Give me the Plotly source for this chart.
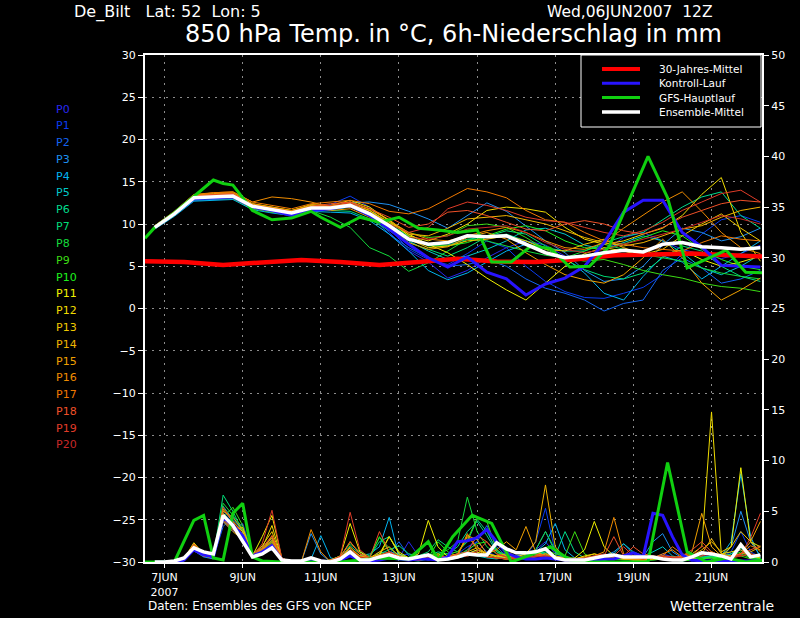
import plotly.graph_objects as go
import pandas as pd

# ---------------- DATA ----------------
T0 = pd.Timestamp("2007-06-06 12:00")
member_hours = list(range(6, 379, 12))        # temperature of the ensemble members (12h)
precip_hours = list(range(6, 379, 6))         # 6h precipitation
clim_hours = list(range(0, 385, 24))

members_names = ["P%d" % i for i in range(21)]
member_colors = ["#2828f0", "#0a3cf0", "#1464f0", "#1e90f0", "#00b4f0", "#00c8c8",
                 "#00dc8c", "#00dc78", "#14dc3c", "#3cdc14", "#1ef01e",
                 "#f0f000", "#f0dc00", "#f0c800", "#f0b400", "#f0a000", "#f08c00",
                 "#f07800", "#f05028", "#e03c28", "#c82828"]

T_P0 = [9.5,11.0,12.9,13.0,13.1,11.8,11.5,11.0,11.6,12.0,12.6,11.4,9.0,6.8,5.5,3.6,4.5,6.0,7.2,8.0,7.5,6.2,5.8,6.8,8.4,9.0,8.0,7.0,6.4,5.9,6.5,7.5]
T_P1 = [9.6,11.1,13.0,13.1,13.2,12.0,11.6,11.0,11.7,12.3,13.3,12.0,9.5,7.0,5.8,5.2,6.5,8.0,7.2,5.0,3.2,2.0,1.3,1.2,1.8,2.5,4.0,6.5,8.8,10.5,11.0,10.2]
T_P2 = [9.7,11.3,13.2,13.3,13.4,12.2,11.8,11.2,11.8,12.0,12.5,11.0,8.8,7.2,6.0,5.0,5.2,5.8,5.0,3.5,2.4,1.8,1.0,-0.3,0.6,1.0,4.5,6.0,4.8,3.0,3.5,4.5]
T_P3 = [9.5,11.0,12.8,12.9,13.0,11.9,11.4,11.1,11.8,12.0,12.5,12.6,12.3,11.5,10.6,9.5,11.0,12.5,11.5,9.8,8.0,6.6,4.5,3.2,3.5,5.0,7.5,9.5,9.0,8.0,8.5,9.5]
T_P4 = [9.4,10.9,12.7,12.8,12.9,11.7,11.3,11.0,11.5,11.4,11.3,10.4,8.8,6.8,4.5,3.4,4.2,5.5,6.8,7.6,7.2,6.0,4.2,1.8,1.0,3.8,6.2,5.5,3.5,5.0,6.5,8.0]
T_P5 = [9.5,11.1,12.9,13.0,13.1,11.9,11.5,11.4,12.0,11.8,12.0,11.0,9.6,8.0,6.8,5.8,6.2,7.0,8.0,9.3,9.5,8.8,7.5,7.0,7.8,8.6,8.0,6.6,4.8,4.0,5.0,6.4]
T_P6 = [9.6,11.2,13.0,13.1,13.3,12.1,11.6,11.2,11.9,11.7,12.0,11.2,10.0,8.5,7.5,7.5,8.2,8.5,8.8,8.0,7.2,6.8,6.8,7.8,8.5,9.0,10.5,12.0,13.2,13.8,11.0,9.5]
T_P7 = [9.5,11.1,12.9,13.1,13.2,12.0,11.5,11.1,11.8,11.6,11.5,10.6,9.2,7.8,7.0,6.2,7.2,8.5,9.2,8.8,7.4,5.8,4.6,3.8,3.5,4.2,6.0,7.4,6.8,5.0,3.8,3.2]
T_P8 = [9.6,11.2,13.0,13.1,13.1,11.9,11.4,11.0,11.6,10.8,9.6,7.2,6.2,4.4,5.4,6.8,8.2,8.0,7.4,6.8,6.3,6.0,6.8,7.6,7.0,6.4,6.0,5.6,4.8,4.2,3.8,3.5]
T_P9 = [9.5,11.0,12.9,13.0,13.0,11.8,11.4,11.2,11.7,11.8,12.1,11.4,10.3,9.0,8.4,8.6,9.8,10.0,9.6,8.4,7.0,6.0,5.6,5.8,5.2,4.5,4.0,3.6,3.0,2.6,2.4,2.0]
T_P10 = [9.6,11.2,13.1,13.2,13.3,12.2,11.8,11.3,12.0,12.1,12.4,11.6,10.2,8.6,7.4,7.4,7.8,8.6,9.4,9.8,9.2,8.0,7.2,7.0,7.6,8.4,9.2,8.6,7.0,5.8,5.0,4.6]
T_P11 = [9.7,11.3,13.2,13.3,13.4,12.3,11.9,11.5,12.1,12.0,12.6,11.8,10.5,8.8,7.6,6.6,5.2,3.6,2.2,1.0,3.0,5.0,6.5,7.2,6.8,6.2,6.4,6.9,5.8,5.0,5.5,6.2]
T_P12 = [9.7,11.4,13.3,13.4,13.5,12.3,11.8,11.4,12.0,12.2,12.8,12.0,10.4,8.6,8.0,8.8,10.0,11.6,12.0,11.8,11.4,9.6,8.2,7.6,8.0,8.8,9.5,11.0,13.5,15.5,9.0,5.6]
T_P13 = [9.8,11.4,13.3,13.5,13.6,12.4,12.0,11.6,12.2,12.1,12.4,11.6,10.0,8.2,7.2,7.4,8.0,8.2,8.6,8.0,7.0,6.8,7.6,8.2,7.2,6.4,7.0,8.6,10.0,11.2,9.5,8.0]
T_P14 = [9.7,11.3,13.4,13.6,13.7,12.4,12.0,11.6,12.3,12.2,12.4,11.6,10.2,8.8,8.6,9.5,10.6,10.8,11.0,10.5,10.0,9.2,8.4,7.8,7.4,7.8,8.6,9.4,9.8,10.8,11.6,12.0]
T_P15 = [9.6,11.2,13.3,13.5,13.6,12.2,11.8,11.2,11.9,11.6,11.8,10.8,9.6,7.8,7.0,7.3,8.4,9.0,8.2,6.6,5.2,4.0,3.4,3.0,4.0,6.0,8.2,6.0,3.0,1.0,2.2,3.6]
T_P16 = [9.8,11.5,13.5,13.7,13.8,12.6,13.2,13.0,12.6,12.0,12.6,11.8,10.4,9.0,8.2,8.0,8.6,9.2,9.6,9.0,8.0,7.2,7.0,7.8,9.5,11.0,12.6,13.8,11.5,9.0,7.2,6.5]
T_P17 = [9.7,11.4,13.4,13.7,13.8,12.6,12.2,11.8,12.4,12.6,12.8,12.4,11.5,11.2,11.8,13.0,14.2,13.8,13.1,11.6,10.5,10.2,9.0,8.0,7.6,7.2,7.0,6.8,7.8,8.6,8.2,8.0]
T_P18 = [9.6,11.3,13.3,13.5,13.6,12.3,11.9,11.5,12.1,12.4,12.6,11.8,10.8,9.6,10.0,11.4,11.6,11.0,10.2,9.4,9.2,10.0,10.4,10.0,9.2,8.8,9.6,10.8,11.6,12.4,12.8,12.6]
T_P19 = [9.6,11.2,13.2,13.4,13.5,12.2,11.8,11.4,12.0,12.2,12.5,11.4,10.0,9.0,9.6,11.8,12.6,12.2,11.6,10.8,10.4,10.2,9.6,9.0,8.6,9.2,10.2,11.6,12.6,13.6,14.0,12.6]
T_P20 = [9.5,11.1,13.1,13.3,13.4,12.0,11.6,11.2,11.8,12.0,12.0,11.0,9.5,8.4,8.2,8.6,9.4,9.6,9.8,9.0,7.8,7.0,6.6,7.0,7.6,8.2,8.8,9.4,10.2,11.0,10.6,10.0]

R_P0 = [0,0,0,0.2,1.3,0.6,0.4,4.0,3.0,3.8,0.8,1.0,1.6,0.2, 0,0,0,0,0,0.2,0.8,0.4,0.2,0.3,0.6,0.4, 2.0,0.6,0.3,0.2,0.4,0.5,1.2,2.5,3.2,1.0,0.8,0.4, 0.6,1.2,2.0,0.8,0.4,0.2,0.1,0.3,0.4,0.6,0.5,0.3, 0.2,0.4,0.8,0.5,0.2,0.1,0.3,0.5,0.2,0.4,1.5,0.6,0.3]
R_P1 = [0,0,0.1,0.3,1.5,0.7,0.5,5.0,4.0,2.0,0.5,0.8,1.5,0.2, 0,0,0,0,0.1,0.3,1.0,0.5,0.3,0.2,0.4,0.6, 0.8,0.4,0.2,0.3,0.5,0.8,1.5,2.0,1.0,0.6,0.4,0.5, 0.6,2.0,5.3,1.0,0.3,0.2,0.1,0.2,0.3,0.5,0.4,0.2, 0.2,0.5,0.6,0.3,0.2,0.4,0.6,0.8,0.5,1.0,3.0,1.0,0.5]
R_P2 = [0,0,0,0.2,1.2,0.6,0.4,3.5,4.5,3.0,0.6,1.0,1.2,0.2, 0,0,0,0,0,0.2,0.6,0.3,0.2,1.0,0.8,2.0, 0.6,0.3,0.2,0.4,0.3,0.6,1.0,2.0,3.6,1.5,0.6,0.4, 0.3,0.6,0.8,0.4,0.2,0.1,0.2,0.3,0.2,0.4,0.6,0.3, 0.2,0.3,0.4,0.2,0.1,0.2,0.3,0.4,0.5,0.8,1.2,0.5,0.3]
R_P3 = [0,0,0,0.1,1.1,0.5,0.3,4.2,3.2,2.8,0.5,0.8,1.8,0.3, 0,0,2.8,0.8,0,0.3,0.6,0.2,0.3,0.6,1.0,0.8, 0.4,0.2,0.3,0.3,0.4,0.6,0.8,1.2,0.9,0.5,0.4,0.6, 0.8,1.2,3.0,1.0,0.4,0.3,0.2,0.4,0.6,1.0,1.8,0.8, 0.5,2.0,2.8,1.0,0.4,0.3,0.4,0.6,0.4,1.5,5.0,2.0,0.6]
R_P4 = [0,0,0.1,0.4,1.6,0.8,0.6,4.8,3.8,2.4,0.7,1.2,2.2,0.3, 0,0,0.3,2.6,0.4,0.2,1.2,0.6,0.8,1.5,4.4,0.5, 0.3,0.2,0.4,0.3,0.2,0.4,0.6,0.8,0.5,0.4,0.3,0.4, 0.5,1.0,1.8,3.8,1.2,0.4,0.2,0.2,0.3,0.4,0.6,0.4, 0.3,0.4,0.6,0.3,0.2,0.2,0.3,0.5,0.6,2.0,8.7,2.5,0.4]
R_P5 = [0,0,0,0.2,1.4,0.6,0.5,5.5,4.2,3.2,0.8,1.4,2.4,0.3, 0,0,0,0,0.2,0.5,1.2,0.5,0.3,0.6,0.8,0.4, 0.2,0.1,0.3,0.5,0.4,0.8,1.0,0.6,0.4,0.3,0.5,0.4, 0.4,0.6,1.0,0.6,0.4,0.3,0.2,0.3,0.5,0.8,1.8,1.0, 0.6,1.0,1.5,0.6,0.3,0.4,0.5,0.6,0.4,0.8,1.5,0.6,0.4]
R_P6 = [0,0,0,0.2,1.5,0.7,0.6,4.6,3.4,2.6,0.5,1.0,1.9,0.2, 0,0,0,0,0.1,0.4,1.6,0.8,0.5,2.0,2.5,0.8, 0.4,0.3,0.6,1.0,0.8,1.5,3.0,4.0,2.6,1.0,0.6,0.4, 0.6,1.0,0.8,0.6,3.0,1.0,0.4,0.3,0.2,0.3,0.4,0.3, 0.2,0.3,0.5,0.4,0.3,0.3,0.4,0.6,0.5,0.8,1.6,0.8,0.5]
R_P7 = [0,0,0.1,0.3,1.3,0.6,0.5,6.6,5.0,3.0,0.6,1.1,2.0,0.3, 0,0,0,0,0,0.2,0.6,0.4,0.3,0.8,1.2,1.6, 0.8,0.6,1.0,2.2,1.5,1.0,2.0,4.2,3.0,1.2,0.5,0.3, 0.4,0.8,1.0,0.5,0.3,0.2,0.1,0.2,0.3,0.4,0.3,0.2, 0.2,0.3,0.4,0.3,0.2,0.2,0.3,0.5,0.4,0.6,1.4,0.6,0.3]
R_P8 = [0,0,0.1,0.3,1.8,0.8,0.5,5.8,4.6,3.4,0.8,1.3,2.1,0.3, 0,0,0,0,0.2,0.6,1.8,1.0,0.6,2.4,1.4,0.6, 0.4,0.3,0.5,0.8,1.2,2.0,6.4,3.0,1.5,0.8,0.5,0.4, 0.6,1.2,3.0,1.2,0.6,0.3,0.2,0.3,0.4,0.3,0.2,0.2, 0.1,0.2,0.3,0.2,0.2,0.3,0.5,0.4,0.3,0.5,0.8,0.4,0.2]
R_P9 = [0,0,0,0.2,1.2,0.6,0.4,4.4,5.4,3.6,0.6,1.0,1.7,0.2, 0,0,0,0,0,0.3,0.8,0.4,0.2,0.5,0.8,0.4, 0.3,0.2,0.4,0.6,0.8,1.0,2.2,4.3,4.0,1.2,0.6,0.4, 0.5,0.8,1.2,0.8,0.6,3.0,0.8,0.3,0.2,0.3,0.4,0.3, 0.2,0.2,0.3,0.2,0.1,0.2,0.3,0.4,0.2,0.4,0.6,0.3,0.2]
R_P10 = [0,0,0,0.2,1.4,0.7,0.5,4.8,3.6,2.8,0.7,1.2,2.0,0.3, 0,0,0,0,0.1,0.3,1.0,0.6,0.4,2.5,1.0,0.5, 0.3,0.2,0.4,2.0,1.0,0.6,1.2,1.8,2.0,1.0,0.4,0.3, 0.4,0.6,0.8,0.4,0.3,0.2,0.1,0.2,0.3,0.4,0.5,0.3, 0.2,0.3,0.4,0.3,0.2,0.2,0.3,0.5,0.4,0.6,1.0,0.5,0.3]
R_P11 = [0,0,0.1,0.3,1.9,0.8,0.6,5.2,4.0,3.0,0.6,2.5,4.6,0.4, 0,0,0,0,0.2,0.6,3.8,1.0,0.4,0.6,2.5,1.0, 0.4,0.8,4.1,1.5,0.5,0.6,0.8,1.0,0.6,0.4,0.3,0.5, 0.8,1.0,0.6,0.4,0.3,0.4,1.2,4.0,1.5,0.6,0.4,0.3, 0.2,0.3,0.4,0.3,0.2,0.3,0.6,1.0,0.6,1.5,9.3,2.0,1.5]
R_P12 = [0,0,0,0.2,1.3,0.6,0.4,4.2,3.2,3.4,0.6,1.4,3.6,0.3, 0,0,0,0,0.1,0.4,1.4,0.6,0.4,0.8,2.5,0.8, 0.3,0.2,0.6,0.8,0.4,0.5,0.8,1.2,0.8,0.5,0.6,0.4, 0.3,0.5,0.8,0.6,0.4,0.3,0.6,0.8,0.5,0.4,0.3,0.2, 0.2,0.3,0.4,0.3,0.5,0.8,1.5,14.8,0.8,1.0,1.2,0.6,0.4]
R_P13 = [0,0,0.1,0.3,1.6,0.7,0.5,4.6,3.8,2.6,0.7,1.6,3.0,0.3, 0,0,0,0,0.2,0.5,2.0,0.8,0.4,1.0,1.5,0.6, 0.3,0.2,0.5,0.6,0.4,0.5,1.0,1.4,0.8,0.6,0.4,0.5, 0.6,0.8,0.6,0.5,0.4,0.3,0.5,0.8,0.6,0.4,0.3,0.4, 0.3,0.4,0.5,0.4,0.3,0.6,1.2,2.0,1.0,1.5,3.0,2.0,1.0]
R_P14 = [0,0,0,0.2,1.2,0.6,0.4,4.0,3.0,2.2,0.5,1.0,2.6,0.2, 0,0,0,0,0.1,0.3,1.0,0.5,0.3,0.6,0.8,0.5, 0.4,0.3,0.5,0.4,0.6,0.8,2.6,2.2,0.8,0.6,0.8,1.0, 0.8,2.0,7.6,1.5,0.4,0.3,0.2,0.4,0.6,0.5,0.4,0.3, 0.3,0.4,0.6,0.5,0.4,0.5,0.8,2.3,0.8,0.6,0.8,1.0,1.5]
R_P15 = [0,0,0.1,0.3,1.7,0.8,0.6,5.0,4.4,3.2,0.7,1.3,2.4,0.3, 0,0,0,0,0.1,0.4,1.2,0.6,0.4,0.7,1.0,0.6, 0.3,0.2,0.4,0.5,0.5,0.7,2.5,1.5,0.8,1.2,2.0,1.2, 3.5,1.0,0.6,0.4,0.3,0.2,0.3,0.5,0.6,0.4,0.3,0.2, 0.2,0.3,0.5,0.4,0.6,1.0,4.8,1.5,0.6,0.5,0.8,2.0,4.0]
R_P16 = [0,0,0.1,0.3,1.4,0.6,0.5,4.4,3.4,2.4,0.6,1.2,2.2,0.3, 0,0,3.2,1.0,0,0.2,0.6,0.4,0.3,0.5,0.7,0.4, 0.3,0.2,0.3,0.5,0.4,0.6,2.8,1.2,0.6,0.4,0.3,0.4, 0.5,0.8,0.6,0.5,0.4,0.3,0.4,0.6,1.0,4.4,0.8,0.4, 0.3,0.4,0.8,1.2,0.5,0.6,0.8,1.0,0.6,0.5,0.6,0.8,0.6]
R_P17 = [0,0,0,0.2,1.5,0.7,0.5,4.8,3.6,2.6,0.6,1.2,2.0,0.2, 0,0,0,0,0.1,0.4,1.5,0.5,0.3,0.5,0.8,0.4, 0.2,0.2,0.3,0.4,0.3,0.5,0.6,0.8,0.5,0.4,0.3,0.3, 0.4,0.6,0.8,0.5,0.3,0.2,0.3,0.4,0.5,0.6,0.4,0.3, 0.3,0.4,0.6,1.5,0.8,0.6,1.0,0.8,0.5,0.6,0.8,1.6,1.2]
R_P18 = [0,0,0.1,0.3,1.8,0.8,0.6,5.4,4.0,2.8,0.7,1.4,2.6,0.3, 0,0,0,0,0.2,0.5,2.0,0.8,0.4,3.0,1.0,0.5, 0.3,0.2,0.4,0.6,0.5,0.8,1.0,2.6,2.0,0.8,0.5,0.4, 0.5,0.8,0.6,0.4,0.3,0.2,0.3,0.5,0.6,2.5,0.6,1.5, 0.8,0.6,0.5,0.4,0.6,1.2,2.0,1.0,0.6,0.5,0.8,1.2,1.6]
R_P19 = [0,0,0,0.2,1.3,0.6,0.5,4.2,3.2,2.4,0.6,1.8,5.1,0.4, 0,0,0,0,0.1,0.6,4.9,1.2,0.4,0.6,1.0,0.5, 0.3,0.2,0.4,0.5,0.4,0.6,0.8,1.0,2.0,0.8,0.5,0.4, 0.4,0.6,0.5,0.4,0.3,0.3,0.4,0.6,0.8,0.6,1.5,0.6, 0.4,0.5,0.6,0.5,0.4,0.5,1.6,0.8,0.6,0.5,0.7,2.4,4.8]
R_P20 = [0,0,0.1,0.3,1.2,0.7,0.5,4.6,3.4,2.2,0.5,1.0,1.8,0.2, 0,0,0,0,0.1,0.3,1.2,0.5,0.3,0.5,0.8,0.4, 0.3,0.2,0.3,0.4,0.3,0.5,0.6,0.8,0.5,0.4,0.3,0.3, 0.4,0.5,0.6,0.4,0.3,0.2,0.3,0.4,0.5,0.6,0.5,0.4, 0.3,0.4,0.5,0.4,0.3,0.4,0.6,0.8,0.5,0.4,0.6,0.8,0.6]

member_temps = [T_P0, T_P1, T_P2, T_P3, T_P4, T_P5, T_P6, T_P7, T_P8, T_P9, T_P10,
                T_P11, T_P12, T_P13, T_P14, T_P15, T_P16, T_P17, T_P18, T_P19, T_P20]
member_precip = [R_P0, R_P1, R_P2, R_P3, R_P4, R_P5, R_P6, R_P7, R_P8, R_P9, R_P10,
                 R_P11, R_P12, R_P13, R_P14, R_P15, R_P16, R_P17, R_P18, R_P19, R_P20]

# Ensemble mean
mean_temp = [9.6,11.2,13.1,13.2,13.3,12.1,11.7,11.3,11.9,11.9,12.2,11.2,9.8,8.2,7.6,7.8,8.6,8.5,8.6,7.6,6.6,6.0,6.2,6.6,6.9,6.7,7.6,7.8,7.3,7.2,7.0,7.2]
mean_precip = [0,0,0.1,0.4,1.4,1.0,0.8,4.6,3.6,2.1, 0.5,0.8,1.4,0.2,0.1,0.1,0.4,0.1,0,0.3,
               1.0,0.2,0.2,0.5,0.7,0.4,0.3,0.5,0.7,0.2, 0.3,0.5,0.8,0.7,0.7,1.9,1.3,0.9,0.9,1.0,
               1.3,0.4,0.2,0.2,0.2,0.4,0.6,0.7,0.5,0.5, 0.5,0.5,0.3,0.2,0.2,0.5,0.9,0.8,0.6,0.3,
               1.7,0.5,0.7]
# Control run
ctrl_temp = [9.6,11.2,13.0,13.1,13.2,12.0,11.6,11.0,11.6,11.8,12.2,11.0,9.4,7.6,6.0,4.9,6.1,4.3,3.5,1.6,2.9,3.6,5.0,7.8,11.4,12.8,12.8,9.0,7.3,5.1,5.0,4.9]
ctrl_precip = [0,0,0,0.2,1.2,0.7,0.5,4.4,3.6,2.6, 0.6,1.0,1.6,0.2,0,0,0.1,0.1,0,0.2,
               0.6,0.2,0.1,0.2,0.4,0.3,0.2,0.3,0.3,0.2, 0.5,2.0,2.1,2.4,3.2,2.0,0.9,0.5,0.3,0.3,
               0.4,0.3,0.2,0.2,0.2,0.2,0.3,0.3,0.6,0.9, 0.5,4.8,4.6,2.5,0.7,0.2,0.1,0.1,0.1,0.1,
               0.1,0.1,0.1]
# GFS main run
gfs_t_hours = [0,6,18,30,42,48,54,66,78,90,102,108,120,132,144,156,168,180,192,204,
               213,225,237,249,261,273,285,309,321,333,357,369,381]
gfs_temp = [8.3,9.6,11.3,13.3,15.2,14.8,14.6,11.6,10.5,10.7,11.5,10.8,9.6,10.8,10.2,10.8,9.5,9.3,9.0,9.3,
            5.5,5.5,7.4,7.1,4.9,5.0,7.3,18.0,13.1,4.8,6.9,4.3,4.2]
gfs_p_hours = [0,18,30,36,42,48,54,60,66,72,84,120,144,162,174,180,189,201,213,225,
               237,249,261,273,309,321,333,345,357,369,381]
gfs_precip = [0,0,4.1,4.6,0.4,0.2,4.8,5.8,0.5,0.1,0,0,0.4,0.3,2.0,0.2,2.5,4.6,3.8,0,
              0.7,1.5,0.2,0,0,9.8,1.0,0,0.4,0,0.2]
# 30-year climatology
clim_temp = [5.6,5.5,5.15,5.4,5.75,5.5,5.15,5.5,5.9,5.55,5.5,5.8,6.3,6.4,6.5,6.3,6.1]

tick_days = ["2007-06-07", "2007-06-09", "2007-06-11", "2007-06-13",
             "2007-06-15", "2007-06-17", "2007-06-19", "2007-06-21"]
tick_text = ["7JUN<br>2007", "9JUN", "11JUN", "13JUN", "15JUN", "17JUN", "19JUN", "21JUN"]

legend_labels = ["30-Jahres-Mittel", "Kontroll-Lauf", "GFS-Hauptlauf", "Ensemble-Mittel"]
legend_colors = ["#ff0000", "#2814ff", "#10d010", "#ffffff"]

for arr in member_temps:
    assert len(arr) == len(member_hours)
for arr in member_precip:
    assert len(arr) == len(precip_hours)
assert len(mean_temp) == len(member_hours) and len(ctrl_temp) == len(member_hours)
assert len(mean_precip) == len(precip_hours) and len(ctrl_precip) == len(precip_hours)
assert len(gfs_temp) == len(gfs_t_hours) and len(gfs_precip) == len(gfs_p_hours)
assert len(clim_temp) == len(clim_hours)


def tt(hours):
    return [T0 + pd.Timedelta(hours=h) for h in hours]


FONT = "DejaVu Sans"
fig = go.Figure()

# members: temperature and precipitation
for name, col, tv, pv in zip(members_names, member_colors, member_temps, member_precip):
    fig.add_trace(go.Scatter(x=tt(member_hours), y=tv, mode="lines", name=name,
                             line=dict(color=col, width=1), showlegend=False))
    fig.add_trace(go.Scatter(x=tt(precip_hours), y=pv, mode="lines", name=name, yaxis="y2",
                             line=dict(color=col, width=1), showlegend=False))

# thick lines
fig.add_trace(go.Scatter(x=tt(precip_hours), y=ctrl_precip, mode="lines", yaxis="y2",
                         line=dict(color=legend_colors[1], width=3), showlegend=False))
fig.add_trace(go.Scatter(x=tt(gfs_p_hours), y=gfs_precip, mode="lines", yaxis="y2",
                         line=dict(color=legend_colors[2], width=3), showlegend=False))
fig.add_trace(go.Scatter(x=tt(precip_hours), y=mean_precip, mode="lines", yaxis="y2",
                         line=dict(color=legend_colors[3], width=3.5), showlegend=False))

fig.add_trace(go.Scatter(x=tt(clim_hours), y=clim_temp, mode="lines", name=legend_labels[0],
                         line=dict(color=legend_colors[0], width=4.5), showlegend=False))
fig.add_trace(go.Scatter(x=tt(member_hours), y=ctrl_temp, mode="lines", name=legend_labels[1],
                         line=dict(color=legend_colors[1], width=3), showlegend=False))
fig.add_trace(go.Scatter(x=tt(gfs_t_hours), y=gfs_temp, mode="lines", name=legend_labels[2],
                         line=dict(color=legend_colors[2], width=3), showlegend=False))
fig.add_trace(go.Scatter(x=tt(member_hours), y=mean_temp, mode="lines", name=legend_labels[3],
                         line=dict(color=legend_colors[3], width=3.5), showlegend=False))

# ---------------- LAYOUT ----------------
W, H = 800, 618
L, R, TOP, B = 145, 38, 55, 56
pw, ph = W - L - R, H - TOP - B


def px(x):
    return (x - L) / pw


def py(y):
    return (H - B - y) / ph


ann = []
shapes = []
for k, (name, col) in enumerate(zip(members_names, member_colors)):
    ann.append(dict(x=px(54), y=py(109 + k * 16.8), xref="paper", yref="paper", text=name,
                    showarrow=False, xanchor="left", yanchor="middle",
                    font=dict(color=col, size=11, family=FONT)))
ann += [
    dict(x=px(72), y=py(12), xref="paper", yref="paper", text="De_Bilt   Lat: 52  Lon: 5",
         showarrow=False, xanchor="left", yanchor="middle", font=dict(color="white", size=16, family=FONT)),
    dict(x=px(545), y=py(12), xref="paper", yref="paper", text="Wed,06JUN2007  12Z",
         showarrow=False, xanchor="left", yanchor="middle", font=dict(color="white", size=15.5, family=FONT)),
    dict(x=px(453), y=py(34), xref="paper", yref="paper",
         text="850 hPa Temp. in °C, 6h-Niederschlag in mm",
         showarrow=False, xanchor="center", yanchor="middle", font=dict(color="white", size=24, family=FONT)),
    dict(x=px(146), y=py(606), xref="paper", yref="paper", text="Daten: Ensembles des GFS von NCEP",
         showarrow=False, xanchor="left", yanchor="middle", font=dict(color="white", size=12, family=FONT)),
    dict(x=px(776), y=py(606), xref="paper", yref="paper", text="Wetterzentrale",
         showarrow=False, xanchor="right", yanchor="middle", font=dict(color="white", size=14, family=FONT)),
]

# legend box (drawn as decoration)
shapes.append(dict(type="rect", xref="paper", yref="paper", x0=px(581), x1=px(761),
                   y0=py(127), y1=py(55), fillcolor="black", line=dict(color="white", width=1),
                   layer="above"))
legend_widths = [4, 3, 3, 3.5]
for k, (lab, col, lw) in enumerate(zip(legend_labels, legend_colors, legend_widths)):
    yy = py(69 + k * 14.3)
    shapes.append(dict(type="line", xref="paper", yref="paper", x0=px(602), x1=px(640),
                       y0=yy, y1=yy, line=dict(color=col, width=lw), layer="above"))
    ann.append(dict(x=px(657), y=yy, xref="paper", yref="paper", text=lab, showarrow=False,
                    xanchor="left", yanchor="middle", font=dict(color="white", size=10.5, family=FONT)))

axis_font = dict(color="white", size=11, family=FONT)
fig.update_layout(
    width=W, height=H,
    margin=dict(l=L, r=R, t=TOP, b=B),
    paper_bgcolor="black", plot_bgcolor="black",
    font=dict(family=FONT, color="white"),
    showlegend=False,
    xaxis=dict(type="date",
               range=[T0, T0 + pd.Timedelta(hours=379)],
               tickvals=[pd.Timestamp(d) for d in tick_days], ticktext=tick_text,
               tickangle=0,
               ticks="outside", ticklen=4, tickcolor="white", tickfont=axis_font,
               showgrid=True, gridcolor="#8c8c8c", griddash="2px,5px", gridwidth=1,
               showline=True, linecolor="white", linewidth=2, mirror=True, zeroline=False),
    yaxis=dict(range=[-30, 30], dtick=5, tick0=-30,
               ticks="outside", ticklen=5, tickcolor="white", tickfont=axis_font,
               showgrid=True, gridcolor="#8c8c8c", griddash="2px,5px", gridwidth=1,
               showline=True, linecolor="white", linewidth=2, zeroline=False),
    yaxis2=dict(range=[0, 50], dtick=5, tick0=0, overlaying="y", side="right",
                ticks="outside", ticklen=5, tickcolor="white", tickfont=axis_font,
                showgrid=False, showline=True, linecolor="white", linewidth=2, zeroline=False),
    annotations=ann,
    shapes=shapes,
)

fig.write_html("out.html", config={"displayModeBar": False},
               post_script="document.body.style.margin='0px';document.body.style.background='black';")
